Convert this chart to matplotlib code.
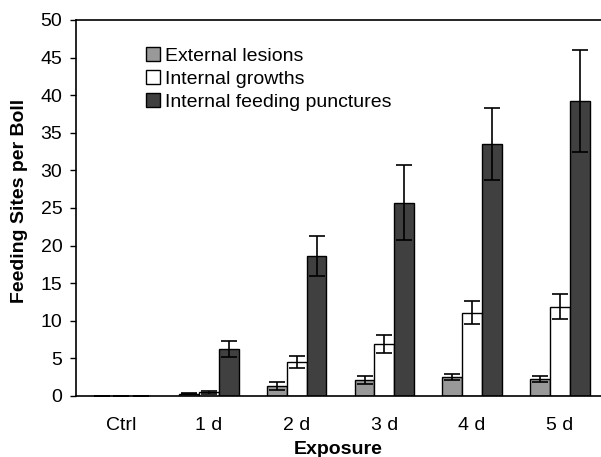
import matplotlib
matplotlib.use("Agg")
import matplotlib.pyplot as plt
import numpy as np

plt.rcParams['font.family'] = ['Liberation Sans', 'DejaVu Sans']

categories = ["Ctrl", "1 d", "2 d", "3 d", "4 d", "5 d"]
series_names = ["External lesions", "Internal growths", "Internal feeding punctures"]

external = [0, 0.3, 1.3, 2.1, 2.5, 2.3]
external_err = [0, 0.1, 0.5, 0.5, 0.4, 0.4]
internal = [0, 0.5, 4.5, 6.9, 11.1, 11.9]
internal_err = [0, 0.2, 0.8, 1.2, 1.5, 1.6]
feeding = [0, 6.3, 18.6, 25.7, 33.5, 39.2]
feeding_err = [0, 1.05, 2.7, 5.0, 4.8, 6.8]

colors = ['#999999', '#ffffff', '#404040']

fig = plt.figure(figsize=(6.01, 4.57), dpi=100)
ax = fig.add_axes([76/601, 61/457, 1 - 76/601, 376/457])

x = np.arange(len(categories))
w = 0.226
vals = [external, internal, feeding]
errs = [external_err, internal_err, feeding_err]
for i in range(3):
    ax.bar(x + (i - 1) * w, vals[i], w, color=colors[i], edgecolor='black',
           linewidth=1.0, label=series_names[i], zorder=2)
    ax.errorbar(x + (i - 1) * w, vals[i], yerr=errs[i], fmt='none', ecolor='black',
                elinewidth=1.2, capsize=5.5, capthick=1.2, zorder=3)

ax.set_xlim(-0.517, 5.47)
ax.set_ylim(0, 50)
ax.set_yticks(np.arange(0, 51, 5))
ax.set_xticks(x)
ax.set_xticklabels(categories)
ax.tick_params(axis='x', length=0, pad=15, labelsize=14)
ax.tick_params(axis='y', direction='out', length=4.3, width=1, labelsize=14, pad=5.5)
ax.spines['right'].set_visible(False)
for s in ['left', 'bottom', 'top']:
    ax.spines[s].set_linewidth(1.2)

ax.set_ylabel("Feeding Sites per Boll", fontsize=14, fontweight='bold')
ax.set_xlabel("Exposure", fontsize=14, fontweight='bold')
ax.xaxis.set_label_coords(0.5, (396 - 441) / 376)
ax.yaxis.set_label_coords((28 - 76) / 525, 0.52)

ax.legend(loc='upper left', bbox_to_anchor=(146/601, 1 - 47/457), bbox_transform=fig.transFigure,
          frameon=False, fontsize=14, handlelength=0.72, handleheight=0.72,
          handletextpad=0.26, labelspacing=0.27, borderpad=0, borderaxespad=0)

fig.savefig("out.png", dpi=100)
